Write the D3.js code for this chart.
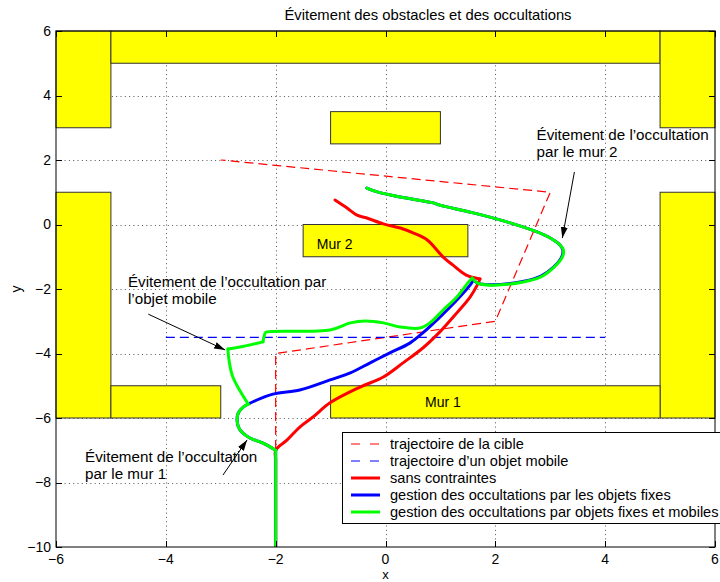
<!DOCTYPE html>
<html>
<head>
<meta charset="utf-8">
<script src="https://cdn.jsdelivr.net/npm/d3@7"></script>
<style>
  body { margin: 0; background: #fff; }
  text { font-family: "Liberation Sans", Arial, Helvetica, sans-serif; fill: #000; }
</style>
</head>
<body>
<svg id="chart" width="720" height="582"></svg>
<script>
// ---- data (scene coordinates, metres) ----
const xTicks = [-6, -4, -2, 0, 2, 4, 6];
const yTicks = [-10, -8, -6, -4, -2, 0, 2, 4, 6];

// fixed obstacles: [xmin, xmax, ymin, ymax]
const walls = [
  [-6, -5, 3, 6], [-5, 5, 5, 6], [5, 6, 3, 6],
  [-1, 1, 2.5, 3.5],
  [-6, -5, -6, 1], [5, 6, -6, 1],
  [-1.5, 1.5, -1, 0],
  [-5, -3, -6, -5], [-1, 5, -6, -5]
];
const wallNames = ["Mur 1", "Mur 2"];
const wallNameAt = [[0.72, -5.5], [-1.25, -0.62]];

// target trajectory (dashed red)
const targetPath = [[-2, -10], [-2, -4], [2, -3], [3, 1], [-3, 2]];
// moving object trajectory (dashed blue)
const mobilePath = [[-4, -3.5], [4, -3.5]];

// camera trajectory without constraints
const pathFree = [
  [-2, -10], [-2, -7.3], [-2, -7], [-1.79, -6.68], [-1.56, -6.28], [-1.32, -5.97],
  [-1.01, -5.53], [-0.46, -5.04], [-0.04, -4.73], [0.32, -4.29], [0.68, -3.83],
  [0.99, -3.33], [1.30, -2.74], [1.54, -2.25], [1.67, -1.88], [1.72, -1.69],
  [1.47, -1.57], [1.23, -1.26], [1.05, -1.01], [0.76, -0.48],
  [0.50, -0.26], [0.27, -0.11], [-0.04, 0.02], [-0.34, 0.20], [-0.52, 0.29],
  [-0.70, 0.51], [-0.92, 0.76]
];

// camera trajectory handling occlusions by fixed obstacles
const pathFixed = [
  [-2, -10], [-2, -7.3], [-2, -7], [-2.23, -6.78], [-2.47, -6.62], [-2.65, -6.37],
  [-2.70, -6.12], [-2.68, -5.84], [-2.59, -5.66], [-2.50, -5.57],
  [-2.05, -5.26], [-1.56, -5.13], [-1.01, -4.82], [-0.64, -4.60], [-0.28, -4.29],
  [0.08, -3.98], [0.45, -3.67], [0.68, -3.36], [0.99, -2.87], [1.30, -2.34],
  [1.54, -1.88], [1.60, -1.72], [1.68, -1.82], [1.92, -1.87], [2.52, -1.76],
  [2.83, -1.60], [3.06, -1.32], [3.21, -1.00], [3.23, -0.79], [3.18, -0.64],
  [3.00, -0.42], [2.76, -0.23], [2.21, 0.08], [1.60, 0.36], [0.99, 0.60],
  [0.87, 0.67], [0.27, 0.85], [-0.15, 1.01], [-0.34, 1.13]
];

// camera trajectory handling occlusions by fixed and moving obstacles
const pathMobile = [
  [-2, -10], [-2, -7.3], [-2, -7], [-2.23, -6.78], [-2.47, -6.62], [-2.65, -6.37],
  [-2.70, -6.12], [-2.68, -5.84], [-2.59, -5.66], [-2.50, -5.57],
  [-2.78, -4.73], [-2.85, -4.20], [-2.87, -3.86], [-2.65, -3.80], [-2.23, -3.64],
  [-2.19, -3.36], [-2.16, -3.33], [-1.01, -3.27], [-0.64, -3.05], [-0.37, -2.99],
  [-0.04, -3.05], [0.27, -3.18], [0.63, -3.21], [0.81, -3.05], [1.05, -2.65],
  [1.30, -2.25], [1.50, -1.81], [1.58, -1.66], [1.67, -1.81], [1.91, -1.88],
  [2.51, -1.78], [2.82, -1.63], [3.05, -1.35], [3.22, -1.01], [3.24, -0.79],
  [3.18, -0.64], [3.00, -0.42], [2.76, -0.23], [2.21, 0.08], [1.60, 0.36],
  [0.99, 0.60], [0.87, 0.67], [0.27, 0.85], [-0.15, 1.01], [-0.34, 1.13]
];

const legendLabels = [
  "trajectoire de la cible",
  "trajectoire d\u2019un objet mobile",
  "sans contraintes",
  "gestion des occultations par les objets fixes",
  "gestion des occultations par objets fixes et mobiles"
];

// ---- layout ----
const svg = d3.select("#chart");
const L = 56, R = 715, T = 31, B = 547;
const x = d3.scaleLinear().domain([-6, 6]).range([L, R]);
const y = d3.scaleLinear().domain([-10, 6]).range([B, T]);
const fmt = d => d3.format("d")(d);

const defs = svg.append("defs");
defs.append("marker")
  .attr("id", "arrow").attr("markerUnits", "userSpaceOnUse")
  .attr("markerWidth", 12).attr("markerHeight", 8)
  .attr("refX", 11).attr("refY", 4).attr("orient", "auto")
  .append("path").attr("d", "M0,0.5 L11,4 L0,7.5 Z").attr("fill", "#000");
defs.append("clipPath").attr("id", "plotClip")
  .append("rect").attr("x", L).attr("y", T).attr("width", R - L).attr("height", B - T);

// grid
const grid = svg.append("g").attr("stroke", "#555").attr("stroke-width", 1)
  .attr("stroke-dasharray", "1,3.3");
grid.selectAll("line.gx").data(xTicks.slice(1, -1)).join("line")
  .attr("x1", d => Math.round(x(d)) + 0.5).attr("x2", d => Math.round(x(d)) + 0.5)
  .attr("y1", T).attr("y2", B);
grid.selectAll("line.gy").data(yTicks.slice(1, -1)).join("line")
  .attr("y1", d => Math.round(y(d)) + 0.5).attr("y2", d => Math.round(y(d)) + 0.5)
  .attr("x1", L).attr("x2", R);

// obstacles
svg.append("g").selectAll("rect").data(walls).join("rect")
  .attr("x", d => x(d[0])).attr("y", d => y(d[3]))
  .attr("width", d => x(d[1]) - x(d[0])).attr("height", d => y(d[2]) - y(d[3]))
  .attr("fill", "#ffff00").attr("stroke", "#333").attr("stroke-width", 1);

svg.append("g").selectAll("text").data(wallNames).join("text")
  .attr("x", (d, i) => x(wallNameAt[i][0])).attr("y", (d, i) => y(wallNameAt[i][1]))
  .attr("dy", "0.35em").attr("font-size", 14).text(d => d);

// trajectories
const plot = svg.append("g").attr("clip-path", "url(#plotClip)");
const straight = d3.line().x(d => x(d[0])).y(d => y(d[1]));
const smooth = d3.line().x(d => x(d[0])).y(d => y(d[1])).curve(d3.curveCatmullRom.alpha(0.5));

// split a polyline at sharp corners so the spline keeps them sharp
function pieces(p) {
  const out = [];
  let cur = [p[0]];
  for (let i = 1; i < p.length; i++) {
    cur.push(p[i]);
    if (i < p.length - 1) {
      const ax = x(p[i][0]) - x(p[i - 1][0]), ay = y(p[i][1]) - y(p[i - 1][1]);
      const bx = x(p[i + 1][0]) - x(p[i][0]), by = y(p[i + 1][1]) - y(p[i][1]);
      const cos = (ax * bx + ay * by) / (Math.hypot(ax, ay) * Math.hypot(bx, by));
      if (cos < 0.6) { out.push(cur); cur = [p[i]]; }
    }
  }
  out.push(cur);
  return out;
}

plot.append("path").attr("d", straight(targetPath)).attr("fill", "none")
  .attr("stroke", "#ff0000").attr("stroke-width", 1.2).attr("stroke-dasharray", "9,5");
plot.append("path").attr("d", straight(mobilePath)).attr("fill", "none")
  .attr("stroke", "#0000ff").attr("stroke-width", 1.2).attr("stroke-dasharray", "9,5");
[[pathFree, "#ff0000"], [pathFixed, "#0000ff"], [pathMobile, "#00ff00"]].forEach(([p, c]) => {
  const g = plot.append("g");
  pieces(p).forEach(seg => {
    g.append("path").attr("d", smooth(seg)).attr("fill", "none")
      .attr("stroke", c).attr("stroke-width", 3)
      .attr("stroke-linejoin", "round").attr("stroke-linecap", "round");
  });
});

// axes box and ticks
svg.append("rect").attr("x", L).attr("y", T).attr("width", R - L).attr("height", B - T)
  .attr("fill", "none").attr("stroke", "#000").attr("stroke-width", 1);
const tk = svg.append("g").attr("stroke", "#000").attr("stroke-width", 1);
xTicks.forEach(d => {
  const px = Math.round(x(d)) + 0.5;
  tk.append("line").attr("x1", px).attr("x2", px).attr("y1", B).attr("y2", B - 6);
  tk.append("line").attr("x1", px).attr("x2", px).attr("y1", T).attr("y2", T + 6);
});
yTicks.forEach(d => {
  const py = Math.round(y(d)) + 0.5;
  tk.append("line").attr("y1", py).attr("y2", py).attr("x1", L).attr("x2", L + 6);
  tk.append("line").attr("y1", py).attr("y2", py).attr("x1", R).attr("x2", R - 6);
});

svg.append("g").selectAll("text").data(xTicks).join("text")
  .attr("x", d => x(d)).attr("y", B + 17).attr("text-anchor", "middle")
  .attr("font-size", 14).text(fmt);
svg.append("g").selectAll("text").data(yTicks).join("text")
  .attr("x", L - 5).attr("y", d => y(d)).attr("dy", "0.35em").attr("text-anchor", "end")
  .attr("font-size", 14).text(fmt);

svg.append("text").attr("x", (L + R) / 2).attr("y", 579).attr("text-anchor", "middle")
  .attr("font-size", 13).text("x");
svg.append("text").attr("transform", `translate(21,${y(-2)}) rotate(-90)`)
  .attr("text-anchor", "middle").attr("font-size", 14).text("y");

svg.append("text").attr("x", 428).attr("y", 20).attr("text-anchor", "middle")
  .attr("font-size", 14.8).text("\u00c9vitement des obstacles et des occultations");

// annotations
const notes = [
  { lines: ["\u00c9vitement de l\u2019occultation", "par le mur 2"], at: [2.75, 2.78], from: [3.44, 1.63], to: [3.22, -0.42] },
  { lines: ["\u00c9vitement de l\u2019occultation par", "l\u2019objet mobile"], at: [-4.69, -1.78], from: [-4.32, -2.78], to: [-2.92, -3.89] },
  { lines: ["\u00c9vitement de l\u2019occultation", "par le mur 1"], at: [-5.47, -7.21], from: [-2.96, -7.77], to: [-2.52, -6.68] }
];
notes.forEach(n => {
  const t = svg.append("text").attr("font-size", 15.2);
  n.lines.forEach((s, i) => t.append("tspan").attr("x", x(n.at[0]))
    .attr("y", y(n.at[1]) + i * 17).attr("dy", "0.35em").text(s));
  svg.append("line").attr("x1", x(n.from[0])).attr("y1", y(n.from[1]))
    .attr("x2", x(n.to[0])).attr("y2", y(n.to[1]))
    .attr("stroke", "#000").attr("stroke-width", 1).attr("marker-end", "url(#arrow)");
});

// legend
const lg = svg.append("g");
lg.append("rect").attr("x", 342.5).attr("y", 432.5).attr("width", 400).attr("height", 91)
  .attr("fill", "#fff").attr("stroke", "#000").attr("stroke-width", 1);
const legendStyle = [
  ["#ff0000", 1.2, "9,10"], ["#0000ff", 1.2, "9,10"],
  ["#ff0000", 3, null], ["#0000ff", 3, null], ["#00ff00", 3, null]
];
legendLabels.forEach((s, i) => {
  const cy = 444 + i * 17;
  const ln = lg.append("line").attr("x1", 351).attr("x2", 380).attr("y1", cy).attr("y2", cy)
    .attr("stroke", legendStyle[i][0]).attr("stroke-width", legendStyle[i][1]);
  if (legendStyle[i][2]) ln.attr("stroke-dasharray", legendStyle[i][2]);
  lg.append("text").attr("x", 390).attr("y", cy).attr("dy", "0.35em")
    .attr("font-size", 14.6).text(s);
});
</script>
</body>
</html>
